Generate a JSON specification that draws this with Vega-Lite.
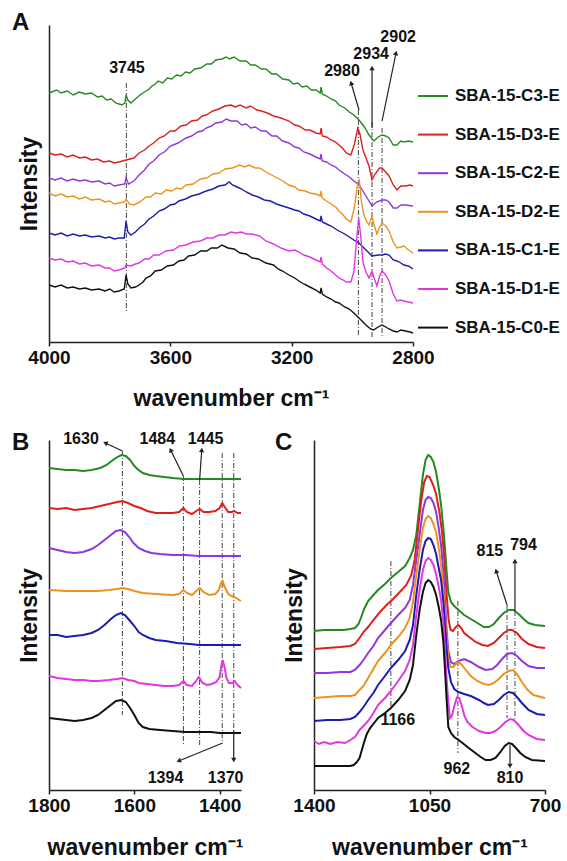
{
"$schema": "https://vega.github.io/schema/vega-lite/v6.json",
"padding": {"left": 12, "top": 11, "right": 0, "bottom": 0},
"config": {
  "font": "Liberation Sans",
  "view": {"stroke": null},
  "axis": {"grid": false, "domainColor": "#222", "domainWidth": 1.5, "tickColor": "#222", "tickWidth": 1.5, "tickSize": 4, "labelFontSize": 19, "labelFontWeight": "bold", "labelColor": "#111", "labelFlush": false, "labelOverlap": false, "labelPadding": 2, "titleFontSize": 23, "titleFontWeight": "bold", "titleColor": "#111", "format": "d"},
  "title": {"fontSize": 24, "fontWeight": "bold", "color": "#111", "anchor": "start", "frame": "group"},
  "text": {"font": "Liberation Sans", "fontWeight": "bold", "fontSize": 16, "color": "#111"}
},
"datasets": {
"lA": [
{"s":"C3","w":4000,"i":249},{"s":"C3","w":3975,"i":252},{"s":"C3","w":3960,"i":249},{"s":"C3","w":3940,"i":251},{"s":"C3","w":3920,"i":247},{"s":"C3","w":3900,"i":250},{"s":"C3","w":3880,"i":248},{"s":"C3","w":3860,"i":249},{"s":"C3","w":3840,"i":245},{"s":"C3","w":3825,"i":246},{"s":"C3","w":3810,"i":242},{"s":"C3","w":3795,"i":243},{"s":"C3","w":3780,"i":239},{"s":"C3","w":3760,"i":237},{"s":"C3","w":3750,"i":239},{"s":"C3","w":3746,"i":247},{"s":"C3","w":3740,"i":242},{"s":"C3","w":3730,"i":239},{"s":"C3","w":3715,"i":243},{"s":"C3","w":3700,"i":247},{"s":"C3","w":3680,"i":251},{"s":"C3","w":3670,"i":253},{"s":"C3","w":3660,"i":256},{"s":"C3","w":3650,"i":258},{"s":"C3","w":3640,"i":261},{"s":"C3","w":3625,"i":259},{"s":"C3","w":3610,"i":264},{"s":"C3","w":3595,"i":263},{"s":"C3","w":3580,"i":267},{"s":"C3","w":3565,"i":266},{"s":"C3","w":3550,"i":270},{"s":"C3","w":3535,"i":269},{"s":"C3","w":3520,"i":273},{"s":"C3","w":3500,"i":274},{"s":"C3","w":3480,"i":278},{"s":"C3","w":3465,"i":278},{"s":"C3","w":3450,"i":282},{"s":"C3","w":3430,"i":283},{"s":"C3","w":3416,"i":285},{"s":"C3","w":3405,"i":283},{"s":"C3","w":3390,"i":285},{"s":"C3","w":3370,"i":281},{"s":"C3","w":3350,"i":281},{"s":"C3","w":3335,"i":277},{"s":"C3","w":3320,"i":277},{"s":"C3","w":3300,"i":273},{"s":"C3","w":3285,"i":273},{"s":"C3","w":3265,"i":268},{"s":"C3","w":3250,"i":268},{"s":"C3","w":3230,"i":263},{"s":"C3","w":3209,"i":262},{"s":"C3","w":3195,"i":258},{"s":"C3","w":3180,"i":259},{"s":"C3","w":3165,"i":255},{"s":"C3","w":3150,"i":256},{"s":"C3","w":3135,"i":252},{"s":"C3","w":3120,"i":252},{"s":"C3","w":3106,"i":249},{"s":"C3","w":3103,"i":255},{"s":"C3","w":3099,"i":248},{"s":"C3","w":3085,"i":246},{"s":"C3","w":3070,"i":243},{"s":"C3","w":3055,"i":241},{"s":"C3","w":3044,"i":237},{"s":"C3","w":3025,"i":234},{"s":"C3","w":3010,"i":230},{"s":"C3","w":2995,"i":227},{"s":"C3","w":2978,"i":222},{"s":"C3","w":2960,"i":215},{"s":"C3","w":2945,"i":207},{"s":"C3","w":2929,"i":201},{"s":"C3","w":2915,"i":205},{"s":"C3","w":2902,"i":207},{"s":"C3","w":2890,"i":206},{"s":"C3","w":2879,"i":204},{"s":"C3","w":2865,"i":197},{"s":"C3","w":2853,"i":197},{"s":"C3","w":2840,"i":201},{"s":"C3","w":2830,"i":200},{"s":"C3","w":2815,"i":201},{"s":"C3","w":2800,"i":200},
{"s":"D3","w":4000,"i":189},{"s":"D3","w":3980,"i":187},{"s":"D3","w":3960,"i":188},{"s":"D3","w":3940,"i":185},{"s":"D3","w":3920,"i":187},{"s":"D3","w":3900,"i":184},{"s":"D3","w":3880,"i":185},{"s":"D3","w":3860,"i":182},{"s":"D3","w":3840,"i":183},{"s":"D3","w":3820,"i":180},{"s":"D3","w":3800,"i":181},{"s":"D3","w":3785,"i":179},{"s":"D3","w":3769,"i":180},{"s":"D3","w":3746,"i":182},{"s":"D3","w":3720,"i":184},{"s":"D3","w":3703,"i":189},{"s":"D3","w":3685,"i":192},{"s":"D3","w":3670,"i":196},{"s":"D3","w":3655,"i":199},{"s":"D3","w":3637,"i":204},{"s":"D3","w":3620,"i":206},{"s":"D3","w":3600,"i":211},{"s":"D3","w":3585,"i":211},{"s":"D3","w":3565,"i":216},{"s":"D3","w":3548,"i":217},{"s":"D3","w":3530,"i":221},{"s":"D3","w":3510,"i":222},{"s":"D3","w":3495,"i":226},{"s":"D3","w":3482,"i":227},{"s":"D3","w":3460,"i":231},{"s":"D3","w":3440,"i":233},{"s":"D3","w":3420,"i":236},{"s":"D3","w":3400,"i":237},{"s":"D3","w":3385,"i":235},{"s":"D3","w":3370,"i":237},{"s":"D3","w":3350,"i":234},{"s":"D3","w":3335,"i":236},{"s":"D3","w":3315,"i":232},{"s":"D3","w":3300,"i":231},{"s":"D3","w":3280,"i":229},{"s":"D3","w":3260,"i":226},{"s":"D3","w":3235,"i":224},{"s":"D3","w":3209,"i":221},{"s":"D3","w":3190,"i":217},{"s":"D3","w":3176,"i":216},{"s":"D3","w":3155,"i":212},{"s":"D3","w":3140,"i":212},{"s":"D3","w":3120,"i":209},{"s":"D3","w":3106,"i":208},{"s":"D3","w":3103,"i":214},{"s":"D3","w":3099,"i":206},{"s":"D3","w":3085,"i":205},{"s":"D3","w":3070,"i":202},{"s":"D3","w":3055,"i":200},{"s":"D3","w":3044,"i":197},{"s":"D3","w":3030,"i":193},{"s":"D3","w":3020,"i":189},{"s":"D3","w":3005,"i":187},{"s":"D3","w":2993,"i":198},{"s":"D3","w":2982,"i":214},{"s":"D3","w":2975,"i":208},{"s":"D3","w":2965,"i":192},{"s":"D3","w":2955,"i":184},{"s":"D3","w":2945,"i":176},{"s":"D3","w":2935,"i":162},{"s":"D3","w":2925,"i":168},{"s":"D3","w":2910,"i":174},{"s":"D3","w":2902,"i":174},{"s":"D3","w":2890,"i":170},{"s":"D3","w":2879,"i":166},{"s":"D3","w":2865,"i":157},{"s":"D3","w":2853,"i":152},{"s":"D3","w":2840,"i":156},{"s":"D3","w":2825,"i":156},{"s":"D3","w":2810,"i":157},{"s":"D3","w":2800,"i":156},
{"s":"C2","w":4000,"i":164},{"s":"C2","w":3980,"i":162},{"s":"C2","w":3960,"i":164},{"s":"C2","w":3940,"i":161},{"s":"C2","w":3920,"i":163},{"s":"C2","w":3900,"i":161},{"s":"C2","w":3880,"i":162},{"s":"C2","w":3860,"i":160},{"s":"C2","w":3835,"i":161},{"s":"C2","w":3815,"i":158},{"s":"C2","w":3800,"i":159},{"s":"C2","w":3785,"i":156},{"s":"C2","w":3769,"i":157},{"s":"C2","w":3750,"i":158},{"s":"C2","w":3746,"i":164},{"s":"C2","w":3738,"i":158},{"s":"C2","w":3720,"i":161},{"s":"C2","w":3703,"i":167},{"s":"C2","w":3685,"i":172},{"s":"C2","w":3670,"i":178},{"s":"C2","w":3655,"i":181},{"s":"C2","w":3637,"i":187},{"s":"C2","w":3620,"i":190},{"s":"C2","w":3600,"i":196},{"s":"C2","w":3575,"i":199},{"s":"C2","w":3548,"i":204},{"s":"C2","w":3530,"i":206},{"s":"C2","w":3510,"i":210},{"s":"C2","w":3495,"i":211},{"s":"C2","w":3482,"i":214},{"s":"C2","w":3465,"i":216},{"s":"C2","w":3450,"i":219},{"s":"C2","w":3430,"i":220},{"s":"C2","w":3416,"i":223},{"s":"C2","w":3400,"i":221},{"s":"C2","w":3380,"i":221},{"s":"C2","w":3365,"i":217},{"s":"C2","w":3350,"i":218},{"s":"C2","w":3335,"i":214},{"s":"C2","w":3320,"i":215},{"s":"C2","w":3300,"i":211},{"s":"C2","w":3285,"i":211},{"s":"C2","w":3265,"i":206},{"s":"C2","w":3250,"i":206},{"s":"C2","w":3230,"i":201},{"s":"C2","w":3209,"i":199},{"s":"C2","w":3190,"i":195},{"s":"C2","w":3176,"i":194},{"s":"C2","w":3160,"i":190},{"s":"C2","w":3140,"i":188},{"s":"C2","w":3120,"i":185},{"s":"C2","w":3106,"i":183},{"s":"C2","w":3103,"i":188},{"s":"C2","w":3099,"i":181},{"s":"C2","w":3085,"i":180},{"s":"C2","w":3070,"i":177},{"s":"C2","w":3055,"i":175},{"s":"C2","w":3044,"i":172},{"s":"C2","w":3025,"i":168},{"s":"C2","w":3010,"i":165},{"s":"C2","w":2995,"i":161},{"s":"C2","w":2978,"i":157},{"s":"C2","w":2955,"i":146},{"s":"C2","w":2935,"i":136},{"s":"C2","w":2920,"i":140},{"s":"C2","w":2902,"i":142},{"s":"C2","w":2890,"i":142},{"s":"C2","w":2879,"i":140},{"s":"C2","w":2865,"i":134},{"s":"C2","w":2853,"i":134},{"s":"C2","w":2840,"i":137},{"s":"C2","w":2825,"i":137},{"s":"C2","w":2800,"i":136},
{"s":"D2","w":4000,"i":149},{"s":"D2","w":3980,"i":146},{"s":"D2","w":3960,"i":148},{"s":"D2","w":3940,"i":145},{"s":"D2","w":3920,"i":146},{"s":"D2","w":3900,"i":143},{"s":"D2","w":3880,"i":145},{"s":"D2","w":3860,"i":142},{"s":"D2","w":3835,"i":143},{"s":"D2","w":3815,"i":140},{"s":"D2","w":3800,"i":141},{"s":"D2","w":3785,"i":138},{"s":"D2","w":3769,"i":139},{"s":"D2","w":3750,"i":140},{"s":"D2","w":3746,"i":143},{"s":"D2","w":3735,"i":138},{"s":"D2","w":3720,"i":137},{"s":"D2","w":3700,"i":140},{"s":"D2","w":3680,"i":145},{"s":"D2","w":3665,"i":145},{"s":"D2","w":3650,"i":149},{"s":"D2","w":3630,"i":148},{"s":"D2","w":3614,"i":152},{"s":"D2","w":3595,"i":151},{"s":"D2","w":3580,"i":154},{"s":"D2","w":3565,"i":153},{"s":"D2","w":3548,"i":157},{"s":"D2","w":3525,"i":158},{"s":"D2","w":3500,"i":163},{"s":"D2","w":3480,"i":164},{"s":"D2","w":3460,"i":168},{"s":"D2","w":3440,"i":169},{"s":"D2","w":3420,"i":173},{"s":"D2","w":3395,"i":174},{"s":"D2","w":3372,"i":177},{"s":"D2","w":3355,"i":175},{"s":"D2","w":3340,"i":177},{"s":"D2","w":3320,"i":174},{"s":"D2","w":3306,"i":174},{"s":"D2","w":3285,"i":170},{"s":"D2","w":3260,"i":166},{"s":"D2","w":3235,"i":162},{"s":"D2","w":3209,"i":157},{"s":"D2","w":3190,"i":155},{"s":"D2","w":3176,"i":152},{"s":"D2","w":3155,"i":151},{"s":"D2","w":3140,"i":149},{"s":"D2","w":3120,"i":148},{"s":"D2","w":3106,"i":146},{"s":"D2","w":3103,"i":151},{"s":"D2","w":3099,"i":144},{"s":"D2","w":3085,"i":141},{"s":"D2","w":3070,"i":138},{"s":"D2","w":3055,"i":135},{"s":"D2","w":3044,"i":131},{"s":"D2","w":3030,"i":127},{"s":"D2","w":3020,"i":123},{"s":"D2","w":3005,"i":120},{"s":"D2","w":2993,"i":135},{"s":"D2","w":2982,"i":160},{"s":"D2","w":2977,"i":162},{"s":"D2","w":2970,"i":140},{"s":"D2","w":2962,"i":127},{"s":"D2","w":2952,"i":120},{"s":"D2","w":2945,"i":117},{"s":"D2","w":2935,"i":126},{"s":"D2","w":2928,"i":117},{"s":"D2","w":2919,"i":108},{"s":"D2","w":2910,"i":115},{"s":"D2","w":2902,"i":119},{"s":"D2","w":2890,"i":116},{"s":"D2","w":2879,"i":111},{"s":"D2","w":2865,"i":100},{"s":"D2","w":2853,"i":94},{"s":"D2","w":2840,"i":95},{"s":"D2","w":2830,"i":96},{"s":"D2","w":2815,"i":92},{"s":"D2","w":2800,"i":89},
{"s":"C1","w":4000,"i":109},{"s":"C1","w":3980,"i":107},{"s":"C1","w":3960,"i":109},{"s":"C1","w":3940,"i":106},{"s":"C1","w":3920,"i":108},{"s":"C1","w":3900,"i":106},{"s":"C1","w":3880,"i":107},{"s":"C1","w":3860,"i":105},{"s":"C1","w":3835,"i":106},{"s":"C1","w":3815,"i":104},{"s":"C1","w":3800,"i":105},{"s":"C1","w":3785,"i":103},{"s":"C1","w":3769,"i":104},{"s":"C1","w":3752,"i":104},{"s":"C1","w":3746,"i":121},{"s":"C1","w":3740,"i":110},{"s":"C1","w":3730,"i":107},{"s":"C1","w":3715,"i":110},{"s":"C1","w":3703,"i":114},{"s":"C1","w":3685,"i":118},{"s":"C1","w":3670,"i":123},{"s":"C1","w":3655,"i":126},{"s":"C1","w":3637,"i":131},{"s":"C1","w":3620,"i":133},{"s":"C1","w":3600,"i":137},{"s":"C1","w":3585,"i":138},{"s":"C1","w":3572,"i":141},{"s":"C1","w":3550,"i":143},{"s":"C1","w":3530,"i":146},{"s":"C1","w":3505,"i":148},{"s":"C1","w":3482,"i":151},{"s":"C1","w":3460,"i":153},{"s":"C1","w":3440,"i":156},{"s":"C1","w":3420,"i":157},{"s":"C1","w":3406,"i":160},{"s":"C1","w":3395,"i":157},{"s":"C1","w":3380,"i":155},{"s":"C1","w":3365,"i":153},{"s":"C1","w":3350,"i":150},{"s":"C1","w":3330,"i":147},{"s":"C1","w":3310,"i":145},{"s":"C1","w":3290,"i":142},{"s":"C1","w":3270,"i":141},{"s":"C1","w":3250,"i":138},{"s":"C1","w":3230,"i":136},{"s":"C1","w":3209,"i":134},{"s":"C1","w":3190,"i":132},{"s":"C1","w":3176,"i":131},{"s":"C1","w":3160,"i":128},{"s":"C1","w":3140,"i":126},{"s":"C1","w":3120,"i":123},{"s":"C1","w":3106,"i":121},{"s":"C1","w":3103,"i":126},{"s":"C1","w":3099,"i":120},{"s":"C1","w":3085,"i":118},{"s":"C1","w":3070,"i":116},{"s":"C1","w":3055,"i":113},{"s":"C1","w":3044,"i":111},{"s":"C1","w":3025,"i":108},{"s":"C1","w":3010,"i":105},{"s":"C1","w":2995,"i":102},{"s":"C1","w":2978,"i":99},{"s":"C1","w":2955,"i":92},{"s":"C1","w":2935,"i":86},{"s":"C1","w":2915,"i":87},{"s":"C1","w":2902,"i":87},{"s":"C1","w":2890,"i":88},{"s":"C1","w":2879,"i":87},{"s":"C1","w":2865,"i":82},{"s":"C1","w":2853,"i":81},{"s":"C1","w":2840,"i":79},{"s":"C1","w":2830,"i":77},{"s":"C1","w":2815,"i":76},{"s":"C1","w":2800,"i":73},
{"s":"D1","w":4000,"i":84},{"s":"D1","w":3980,"i":82},{"s":"D1","w":3960,"i":83},{"s":"D1","w":3940,"i":80},{"s":"D1","w":3920,"i":81},{"s":"D1","w":3900,"i":78},{"s":"D1","w":3880,"i":79},{"s":"D1","w":3860,"i":76},{"s":"D1","w":3835,"i":77},{"s":"D1","w":3815,"i":74},{"s":"D1","w":3800,"i":74},{"s":"D1","w":3785,"i":71},{"s":"D1","w":3769,"i":72},{"s":"D1","w":3750,"i":74},{"s":"D1","w":3746,"i":77},{"s":"D1","w":3730,"i":76},{"s":"D1","w":3715,"i":78},{"s":"D1","w":3703,"i":79},{"s":"D1","w":3685,"i":83},{"s":"D1","w":3670,"i":83},{"s":"D1","w":3655,"i":87},{"s":"D1","w":3637,"i":87},{"s":"D1","w":3615,"i":91},{"s":"D1","w":3590,"i":92},{"s":"D1","w":3570,"i":96},{"s":"D1","w":3548,"i":97},{"s":"D1","w":3525,"i":100},{"s":"D1","w":3500,"i":101},{"s":"D1","w":3480,"i":104},{"s":"D1","w":3460,"i":104},{"s":"D1","w":3440,"i":107},{"s":"D1","w":3420,"i":107},{"s":"D1","w":3400,"i":110},{"s":"D1","w":3385,"i":109},{"s":"D1","w":3365,"i":110},{"s":"D1","w":3350,"i":108},{"s":"D1","w":3330,"i":108},{"s":"D1","w":3306,"i":106},{"s":"D1","w":3285,"i":101},{"s":"D1","w":3260,"i":98},{"s":"D1","w":3235,"i":94},{"s":"D1","w":3209,"i":91},{"s":"D1","w":3190,"i":92},{"s":"D1","w":3176,"i":90},{"s":"D1","w":3160,"i":87},{"s":"D1","w":3140,"i":85},{"s":"D1","w":3120,"i":82},{"s":"D1","w":3106,"i":80},{"s":"D1","w":3103,"i":85},{"s":"D1","w":3099,"i":78},{"s":"D1","w":3085,"i":74},{"s":"D1","w":3070,"i":71},{"s":"D1","w":3055,"i":67},{"s":"D1","w":3044,"i":64},{"s":"D1","w":3030,"i":62},{"s":"D1","w":3020,"i":60},{"s":"D1","w":3005,"i":60},{"s":"D1","w":2995,"i":70},{"s":"D1","w":2985,"i":105},{"s":"D1","w":2979,"i":124},{"s":"D1","w":2972,"i":105},{"s":"D1","w":2965,"i":80},{"s":"D1","w":2955,"i":70},{"s":"D1","w":2945,"i":64},{"s":"D1","w":2935,"i":71},{"s":"D1","w":2927,"i":63},{"s":"D1","w":2919,"i":56},{"s":"D1","w":2910,"i":66},{"s":"D1","w":2902,"i":71},{"s":"D1","w":2890,"i":67},{"s":"D1","w":2879,"i":61},{"s":"D1","w":2865,"i":48},{"s":"D1","w":2853,"i":41},{"s":"D1","w":2840,"i":42},{"s":"D1","w":2830,"i":41},{"s":"D1","w":2815,"i":40},{"s":"D1","w":2800,"i":39},
{"s":"C0","w":4000,"i":57},{"s":"C0","w":3980,"i":55},{"s":"C0","w":3960,"i":57},{"s":"C0","w":3940,"i":54},{"s":"C0","w":3920,"i":55},{"s":"C0","w":3900,"i":53},{"s":"C0","w":3880,"i":54},{"s":"C0","w":3860,"i":52},{"s":"C0","w":3835,"i":53},{"s":"C0","w":3815,"i":51},{"s":"C0","w":3800,"i":53},{"s":"C0","w":3785,"i":50},{"s":"C0","w":3769,"i":51},{"s":"C0","w":3752,"i":53},{"s":"C0","w":3746,"i":67},{"s":"C0","w":3740,"i":58},{"s":"C0","w":3730,"i":54},{"s":"C0","w":3715,"i":55},{"s":"C0","w":3703,"i":57},{"s":"C0","w":3690,"i":60},{"s":"C0","w":3680,"i":64},{"s":"C0","w":3665,"i":66},{"s":"C0","w":3650,"i":71},{"s":"C0","w":3630,"i":72},{"s":"C0","w":3610,"i":76},{"s":"C0","w":3590,"i":77},{"s":"C0","w":3572,"i":81},{"s":"C0","w":3555,"i":82},{"s":"C0","w":3540,"i":86},{"s":"C0","w":3520,"i":87},{"s":"C0","w":3500,"i":91},{"s":"C0","w":3480,"i":91},{"s":"C0","w":3465,"i":94},{"s":"C0","w":3445,"i":94},{"s":"C0","w":3430,"i":97},{"s":"C0","w":3410,"i":94},{"s":"C0","w":3390,"i":93},{"s":"C0","w":3370,"i":89},{"s":"C0","w":3350,"i":88},{"s":"C0","w":3330,"i":84},{"s":"C0","w":3310,"i":83},{"s":"C0","w":3285,"i":79},{"s":"C0","w":3260,"i":77},{"s":"C0","w":3245,"i":73},{"s":"C0","w":3230,"i":71},{"s":"C0","w":3209,"i":67},{"s":"C0","w":3190,"i":64},{"s":"C0","w":3176,"i":61},{"s":"C0","w":3160,"i":58},{"s":"C0","w":3140,"i":55},{"s":"C0","w":3120,"i":52},{"s":"C0","w":3106,"i":49},{"s":"C0","w":3103,"i":54},{"s":"C0","w":3099,"i":48},{"s":"C0","w":3085,"i":45},{"s":"C0","w":3070,"i":43},{"s":"C0","w":3055,"i":40},{"s":"C0","w":3044,"i":39},{"s":"C0","w":3025,"i":35},{"s":"C0","w":3010,"i":33},{"s":"C0","w":2995,"i":29},{"s":"C0","w":2978,"i":24},{"s":"C0","w":2955,"i":17},{"s":"C0","w":2940,"i":13},{"s":"C0","w":2930,"i":12},{"s":"C0","w":2915,"i":15},{"s":"C0","w":2902,"i":17},{"s":"C0","w":2890,"i":15},{"s":"C0","w":2879,"i":13},{"s":"C0","w":2865,"i":11},{"s":"C0","w":2853,"i":10},{"s":"C0","w":2840,"i":12},{"s":"C0","w":2825,"i":11},{"s":"C0","w":2810,"i":10},{"s":"C0","w":2800,"i":9}
],
"dA": [{"w":3745,"i":259,"i2":29},{"w":2980,"i":232,"i2":5},{"w":2935,"i":220,"i2":5},{"w":2902,"i":214,"i2":5}],
"arA": [{"k":"a","w":3004,"i":259,"w2":2978,"i2":232},{"k":"b","w":2935,"i":274,"w2":2935,"i2":214},{"k":"c","w":2856,"i":289,"w2":2902,"i2":221}],
"tA": [{"t":"3745","w":3743,"i":274},{"t":"2980","w":3034,"i":271},{"t":"2934","w":2938,"i":288},{"t":"2902","w":2849,"i":305}],
"lB": [
{"s":"C3","w":1800,"i":322},{"s":"C3","w":1780,"i":321},{"s":"C3","w":1760,"i":320},{"s":"C3","w":1740,"i":320},{"s":"C3","w":1720,"i":319},{"s":"C3","w":1700,"i":320},{"s":"C3","w":1680,"i":322},{"s":"C3","w":1665,"i":325},{"s":"C3","w":1650,"i":330},{"s":"C3","w":1640,"i":333},{"s":"C3","w":1630,"i":335},{"s":"C3","w":1620,"i":334},{"s":"C3","w":1610,"i":330},{"s":"C3","w":1600,"i":324},{"s":"C3","w":1590,"i":320},{"s":"C3","w":1580,"i":317},{"s":"C3","w":1565,"i":315},{"s":"C3","w":1550,"i":314},{"s":"C3","w":1530,"i":313},{"s":"C3","w":1510,"i":312},{"s":"C3","w":1485,"i":311},{"s":"C3","w":1460,"i":311},{"s":"C3","w":1440,"i":311},{"s":"C3","w":1420,"i":311},{"s":"C3","w":1400,"i":311},{"s":"C3","w":1380,"i":311},{"s":"C3","w":1360,"i":311},{"s":"C3","w":1350,"i":311},
{"s":"D3","w":1800,"i":282},{"s":"D3","w":1780,"i":281},{"s":"D3","w":1760,"i":282},{"s":"D3","w":1740,"i":280},{"s":"D3","w":1720,"i":281},{"s":"D3","w":1700,"i":282},{"s":"D3","w":1680,"i":284},{"s":"D3","w":1660,"i":286},{"s":"D3","w":1640,"i":288},{"s":"D3","w":1628,"i":289},{"s":"D3","w":1615,"i":287},{"s":"D3","w":1600,"i":284},{"s":"D3","w":1585,"i":282},{"s":"D3","w":1570,"i":279},{"s":"D3","w":1550,"i":277},{"s":"D3","w":1530,"i":277},{"s":"D3","w":1510,"i":277},{"s":"D3","w":1495,"i":278},{"s":"D3","w":1485,"i":282},{"s":"D3","w":1477,"i":278},{"s":"D3","w":1465,"i":276},{"s":"D3","w":1455,"i":279},{"s":"D3","w":1447,"i":281},{"s":"D3","w":1438,"i":278},{"s":"D3","w":1425,"i":278},{"s":"D3","w":1410,"i":279},{"s":"D3","w":1400,"i":282},{"s":"D3","w":1394,"i":287},{"s":"D3","w":1388,"i":283},{"s":"D3","w":1380,"i":278},{"s":"D3","w":1372,"i":278},{"s":"D3","w":1366,"i":279},{"s":"D3","w":1358,"i":277},{"s":"D3","w":1350,"i":277},
{"s":"C2","w":1800,"i":242},{"s":"C2","w":1780,"i":240},{"s":"C2","w":1760,"i":238},{"s":"C2","w":1740,"i":237},{"s":"C2","w":1720,"i":238},{"s":"C2","w":1700,"i":241},{"s":"C2","w":1685,"i":245},{"s":"C2","w":1670,"i":250},{"s":"C2","w":1655,"i":255},{"s":"C2","w":1643,"i":259},{"s":"C2","w":1632,"i":260},{"s":"C2","w":1622,"i":258},{"s":"C2","w":1612,"i":253},{"s":"C2","w":1602,"i":247},{"s":"C2","w":1590,"i":242},{"s":"C2","w":1575,"i":239},{"s":"C2","w":1560,"i":237},{"s":"C2","w":1540,"i":236},{"s":"C2","w":1510,"i":235},{"s":"C2","w":1480,"i":235},{"s":"C2","w":1449,"i":234},{"s":"C2","w":1420,"i":234},{"s":"C2","w":1400,"i":234},{"s":"C2","w":1380,"i":234},{"s":"C2","w":1350,"i":234},
{"s":"D2","w":1800,"i":200},{"s":"D2","w":1760,"i":199},{"s":"D2","w":1720,"i":199},{"s":"D2","w":1685,"i":199},{"s":"D2","w":1660,"i":200},{"s":"D2","w":1640,"i":201},{"s":"D2","w":1628,"i":202},{"s":"D2","w":1615,"i":201},{"s":"D2","w":1600,"i":199},{"s":"D2","w":1580,"i":197},{"s":"D2","w":1550,"i":196},{"s":"D2","w":1510,"i":195},{"s":"D2","w":1495,"i":196},{"s":"D2","w":1485,"i":200},{"s":"D2","w":1477,"i":197},{"s":"D2","w":1465,"i":195},{"s":"D2","w":1455,"i":199},{"s":"D2","w":1447,"i":202},{"s":"D2","w":1438,"i":198},{"s":"D2","w":1425,"i":195},{"s":"D2","w":1410,"i":196},{"s":"D2","w":1402,"i":200},{"s":"D2","w":1397,"i":207},{"s":"D2","w":1393,"i":209},{"s":"D2","w":1388,"i":203},{"s":"D2","w":1380,"i":196},{"s":"D2","w":1372,"i":194},{"s":"D2","w":1366,"i":193},{"s":"D2","w":1358,"i":191},{"s":"D2","w":1350,"i":189},
{"s":"C1","w":1800,"i":155},{"s":"C1","w":1780,"i":155},{"s":"C1","w":1760,"i":153},{"s":"C1","w":1740,"i":154},{"s":"C1","w":1720,"i":155},{"s":"C1","w":1700,"i":157},{"s":"C1","w":1685,"i":160},{"s":"C1","w":1670,"i":165},{"s":"C1","w":1655,"i":171},{"s":"C1","w":1643,"i":175},{"s":"C1","w":1632,"i":177},{"s":"C1","w":1622,"i":175},{"s":"C1","w":1612,"i":170},{"s":"C1","w":1600,"i":164},{"s":"C1","w":1590,"i":158},{"s":"C1","w":1580,"i":155},{"s":"C1","w":1565,"i":152},{"s":"C1","w":1550,"i":150},{"s":"C1","w":1527,"i":149},{"s":"C1","w":1500,"i":147},{"s":"C1","w":1470,"i":146},{"s":"C1","w":1449,"i":145},{"s":"C1","w":1420,"i":145},{"s":"C1","w":1400,"i":145},{"s":"C1","w":1380,"i":145},{"s":"C1","w":1350,"i":145},
{"s":"D1","w":1800,"i":114},{"s":"D1","w":1780,"i":112},{"s":"D1","w":1760,"i":111},{"s":"D1","w":1740,"i":110},{"s":"D1","w":1720,"i":110},{"s":"D1","w":1700,"i":109},{"s":"D1","w":1685,"i":109},{"s":"D1","w":1660,"i":110},{"s":"D1","w":1640,"i":111},{"s":"D1","w":1628,"i":112},{"s":"D1","w":1615,"i":110},{"s":"D1","w":1600,"i":109},{"s":"D1","w":1590,"i":107},{"s":"D1","w":1570,"i":106},{"s":"D1","w":1550,"i":105},{"s":"D1","w":1530,"i":104},{"s":"D1","w":1510,"i":104},{"s":"D1","w":1495,"i":105},{"s":"D1","w":1485,"i":109},{"s":"D1","w":1477,"i":105},{"s":"D1","w":1465,"i":104},{"s":"D1","w":1457,"i":108},{"s":"D1","w":1449,"i":113},{"s":"D1","w":1440,"i":107},{"s":"D1","w":1430,"i":105},{"s":"D1","w":1418,"i":106},{"s":"D1","w":1408,"i":108},{"s":"D1","w":1400,"i":113},{"s":"D1","w":1396,"i":124},{"s":"D1","w":1393,"i":130},{"s":"D1","w":1389,"i":124},{"s":"D1","w":1384,"i":112},{"s":"D1","w":1378,"i":107},{"s":"D1","w":1370,"i":107},{"s":"D1","w":1365,"i":109},{"s":"D1","w":1358,"i":105},{"s":"D1","w":1350,"i":102},
{"s":"C0","w":1800,"i":72},{"s":"C0","w":1780,"i":71},{"s":"C0","w":1760,"i":70},{"s":"C0","w":1740,"i":69},{"s":"C0","w":1720,"i":70},{"s":"C0","w":1700,"i":72},{"s":"C0","w":1685,"i":75},{"s":"C0","w":1670,"i":80},{"s":"C0","w":1655,"i":85},{"s":"C0","w":1643,"i":89},{"s":"C0","w":1630,"i":90},{"s":"C0","w":1620,"i":88},{"s":"C0","w":1610,"i":82},{"s":"C0","w":1600,"i":75},{"s":"C0","w":1590,"i":67},{"s":"C0","w":1580,"i":63},{"s":"C0","w":1565,"i":61},{"s":"C0","w":1540,"i":60},{"s":"C0","w":1510,"i":59},{"s":"C0","w":1480,"i":58},{"s":"C0","w":1449,"i":58},{"s":"C0","w":1420,"i":58},{"s":"C0","w":1400,"i":57},{"s":"C0","w":1380,"i":57},{"s":"C0","w":1350,"i":57}
],
"dB": [{"w":1628,"i":339,"i2":75},{"w":1485,"i":314,"i2":45},{"w":1447,"i":310,"i2":45},{"w":1394,"i":337,"i2":47},{"w":1367,"i":337,"i2":59}],
"arB": [{"k":"a","w":1668,"i":347,"w2":1628,"i2":339},{"k":"b","w":1515,"i":340,"w2":1485,"i2":314},{"k":"c","w":1442,"i":340,"w2":1447,"i2":310},{"k":"d","w":1496,"i":29,"w2":1393,"i2":47},{"k":"e","w":1367,"i":30,"w2":1367,"i2":59}],
"tB": [{"t":"1630","w":1725,"i":351},{"t":"1484","w":1546,"i":351},{"t":"1445","w":1433,"i":351},{"t":"1394","w":1527,"i":12},{"t":"1370","w":1386,"i":12}],
"lC": [
{"s":"C3","w":1400,"i":159},{"s":"C3","w":1370,"i":160},{"s":"C3","w":1340,"i":160},{"s":"C3","w":1310,"i":160},{"s":"C3","w":1290,"i":161},{"s":"C3","w":1276,"i":162},{"s":"C3","w":1265,"i":166},{"s":"C3","w":1258,"i":172},{"s":"C3","w":1248,"i":181},{"s":"C3","w":1236,"i":189},{"s":"C3","w":1220,"i":195},{"s":"C3","w":1206,"i":200},{"s":"C3","w":1185,"i":206},{"s":"C3","w":1167,"i":212},{"s":"C3","w":1145,"i":218},{"s":"C3","w":1124,"i":224},{"s":"C3","w":1110,"i":232},{"s":"C3","w":1100,"i":240},{"s":"C3","w":1090,"i":255},{"s":"C3","w":1080,"i":285},{"s":"C3","w":1070,"i":315},{"s":"C3","w":1062,"i":330},{"s":"C3","w":1054,"i":335},{"s":"C3","w":1046,"i":333},{"s":"C3","w":1038,"i":328},{"s":"C3","w":1030,"i":318},{"s":"C3","w":1022,"i":302},{"s":"C3","w":1015,"i":285},{"s":"C3","w":1008,"i":262},{"s":"C3","w":1003,"i":242},{"s":"C3","w":998,"i":218},{"s":"C3","w":993,"i":198},{"s":"C3","w":985,"i":188},{"s":"C3","w":975,"i":184},{"s":"C3","w":962,"i":180},{"s":"C3","w":945,"i":175},{"s":"C3","w":920,"i":170},{"s":"C3","w":900,"i":166},{"s":"C3","w":885,"i":163},{"s":"C3","w":870,"i":163},{"s":"C3","w":855,"i":166},{"s":"C3","w":840,"i":172},{"s":"C3","w":825,"i":177},{"s":"C3","w":810,"i":180},{"s":"C3","w":795,"i":180},{"s":"C3","w":780,"i":176},{"s":"C3","w":765,"i":171},{"s":"C3","w":750,"i":167},{"s":"C3","w":730,"i":165},{"s":"C3","w":700,"i":164},
{"s":"D3","w":1400,"i":141},{"s":"D3","w":1360,"i":142},{"s":"D3","w":1320,"i":143},{"s":"D3","w":1290,"i":144},{"s":"D3","w":1276,"i":146},{"s":"D3","w":1262,"i":152},{"s":"D3","w":1250,"i":158},{"s":"D3","w":1236,"i":163},{"s":"D3","w":1220,"i":170},{"s":"D3","w":1200,"i":178},{"s":"D3","w":1180,"i":185},{"s":"D3","w":1160,"i":191},{"s":"D3","w":1140,"i":198},{"s":"D3","w":1120,"i":205},{"s":"D3","w":1105,"i":215},{"s":"D3","w":1095,"i":230},{"s":"D3","w":1085,"i":260},{"s":"D3","w":1075,"i":290},{"s":"D3","w":1066,"i":308},{"s":"D3","w":1058,"i":314},{"s":"D3","w":1050,"i":313},{"s":"D3","w":1040,"i":306},{"s":"D3","w":1030,"i":296},{"s":"D3","w":1020,"i":278},{"s":"D3","w":1012,"i":258},{"s":"D3","w":1005,"i":230},{"s":"D3","w":998,"i":195},{"s":"D3","w":992,"i":170},{"s":"D3","w":986,"i":160},{"s":"D3","w":979,"i":159},{"s":"D3","w":970,"i":163},{"s":"D3","w":962,"i":165},{"s":"D3","w":954,"i":162},{"s":"D3","w":945,"i":157},{"s":"D3","w":930,"i":153},{"s":"D3","w":910,"i":148},{"s":"D3","w":890,"i":145},{"s":"D3","w":873,"i":144},{"s":"D3","w":855,"i":147},{"s":"D3","w":840,"i":152},{"s":"D3","w":825,"i":157},{"s":"D3","w":810,"i":160},{"s":"D3","w":800,"i":160},{"s":"D3","w":785,"i":157},{"s":"D3","w":770,"i":151},{"s":"D3","w":750,"i":146},{"s":"D3","w":725,"i":143},{"s":"D3","w":700,"i":142},
{"s":"C2","w":1400,"i":117},{"s":"C2","w":1360,"i":117},{"s":"C2","w":1320,"i":118},{"s":"C2","w":1290,"i":118},{"s":"C2","w":1276,"i":120},{"s":"C2","w":1262,"i":125},{"s":"C2","w":1250,"i":130},{"s":"C2","w":1236,"i":137},{"s":"C2","w":1220,"i":144},{"s":"C2","w":1206,"i":152},{"s":"C2","w":1185,"i":160},{"s":"C2","w":1167,"i":167},{"s":"C2","w":1145,"i":175},{"s":"C2","w":1124,"i":182},{"s":"C2","w":1110,"i":190},{"s":"C2","w":1100,"i":205},{"s":"C2","w":1090,"i":230},{"s":"C2","w":1080,"i":255},{"s":"C2","w":1070,"i":280},{"s":"C2","w":1062,"i":290},{"s":"C2","w":1054,"i":293},{"s":"C2","w":1046,"i":292},{"s":"C2","w":1038,"i":287},{"s":"C2","w":1030,"i":278},{"s":"C2","w":1022,"i":262},{"s":"C2","w":1015,"i":245},{"s":"C2","w":1008,"i":218},{"s":"C2","w":1003,"i":190},{"s":"C2","w":998,"i":160},{"s":"C2","w":993,"i":139},{"s":"C2","w":985,"i":128},{"s":"C2","w":975,"i":126},{"s":"C2","w":962,"i":129},{"s":"C2","w":945,"i":131},{"s":"C2","w":925,"i":128},{"s":"C2","w":900,"i":123},{"s":"C2","w":880,"i":120},{"s":"C2","w":860,"i":121},{"s":"C2","w":845,"i":125},{"s":"C2","w":830,"i":131},{"s":"C2","w":815,"i":136},{"s":"C2","w":800,"i":137},{"s":"C2","w":785,"i":134},{"s":"C2","w":770,"i":129},{"s":"C2","w":750,"i":124},{"s":"C2","w":725,"i":122},{"s":"C2","w":700,"i":122},
{"s":"D2","w":1400,"i":92},{"s":"D2","w":1360,"i":93},{"s":"D2","w":1320,"i":94},{"s":"D2","w":1290,"i":94},{"s":"D2","w":1276,"i":95},{"s":"D2","w":1262,"i":100},{"s":"D2","w":1250,"i":104},{"s":"D2","w":1236,"i":112},{"s":"D2","w":1220,"i":121},{"s":"D2","w":1206,"i":129},{"s":"D2","w":1185,"i":137},{"s":"D2","w":1167,"i":145},{"s":"D2","w":1145,"i":153},{"s":"D2","w":1124,"i":162},{"s":"D2","w":1110,"i":172},{"s":"D2","w":1100,"i":188},{"s":"D2","w":1090,"i":215},{"s":"D2","w":1080,"i":240},{"s":"D2","w":1070,"i":262},{"s":"D2","w":1062,"i":271},{"s":"D2","w":1054,"i":274},{"s":"D2","w":1046,"i":272},{"s":"D2","w":1038,"i":266},{"s":"D2","w":1030,"i":258},{"s":"D2","w":1022,"i":242},{"s":"D2","w":1015,"i":225},{"s":"D2","w":1008,"i":200},{"s":"D2","w":1003,"i":175},{"s":"D2","w":998,"i":150},{"s":"D2","w":993,"i":132},{"s":"D2","w":986,"i":123},{"s":"D2","w":978,"i":123},{"s":"D2","w":970,"i":126},{"s":"D2","w":962,"i":128},{"s":"D2","w":952,"i":125},{"s":"D2","w":940,"i":120},{"s":"D2","w":925,"i":114},{"s":"D2","w":905,"i":109},{"s":"D2","w":885,"i":106},{"s":"D2","w":870,"i":105},{"s":"D2","w":855,"i":107},{"s":"D2","w":840,"i":111},{"s":"D2","w":825,"i":116},{"s":"D2","w":810,"i":119},{"s":"D2","w":797,"i":120},{"s":"D2","w":785,"i":116},{"s":"D2","w":770,"i":108},{"s":"D2","w":755,"i":101},{"s":"D2","w":735,"i":95},{"s":"D2","w":700,"i":92},
{"s":"C1","w":1400,"i":69},{"s":"C1","w":1360,"i":70},{"s":"C1","w":1320,"i":70},{"s":"C1","w":1290,"i":71},{"s":"C1","w":1276,"i":73},{"s":"C1","w":1262,"i":78},{"s":"C1","w":1250,"i":83},{"s":"C1","w":1236,"i":90},{"s":"C1","w":1220,"i":97},{"s":"C1","w":1206,"i":105},{"s":"C1","w":1185,"i":114},{"s":"C1","w":1167,"i":122},{"s":"C1","w":1145,"i":130},{"s":"C1","w":1124,"i":139},{"s":"C1","w":1110,"i":150},{"s":"C1","w":1100,"i":165},{"s":"C1","w":1090,"i":195},{"s":"C1","w":1080,"i":220},{"s":"C1","w":1070,"i":240},{"s":"C1","w":1062,"i":249},{"s":"C1","w":1054,"i":252},{"s":"C1","w":1046,"i":251},{"s":"C1","w":1038,"i":245},{"s":"C1","w":1030,"i":236},{"s":"C1","w":1022,"i":222},{"s":"C1","w":1015,"i":210},{"s":"C1","w":1008,"i":188},{"s":"C1","w":1003,"i":165},{"s":"C1","w":998,"i":140},{"s":"C1","w":993,"i":122},{"s":"C1","w":985,"i":108},{"s":"C1","w":975,"i":101},{"s":"C1","w":962,"i":98},{"s":"C1","w":945,"i":96},{"s":"C1","w":925,"i":94},{"s":"C1","w":900,"i":90},{"s":"C1","w":885,"i":87},{"s":"C1","w":873,"i":85},{"s":"C1","w":855,"i":86},{"s":"C1","w":840,"i":90},{"s":"C1","w":825,"i":95},{"s":"C1","w":810,"i":98},{"s":"C1","w":797,"i":97},{"s":"C1","w":785,"i":93},{"s":"C1","w":770,"i":87},{"s":"C1","w":750,"i":80},{"s":"C1","w":725,"i":76},{"s":"C1","w":700,"i":75},
{"s":"D1","w":1400,"i":49},{"s":"D1","w":1385,"i":46},{"s":"D1","w":1370,"i":48},{"s":"D1","w":1350,"i":46},{"s":"D1","w":1330,"i":48},{"s":"D1","w":1306,"i":47},{"s":"D1","w":1290,"i":50},{"s":"D1","w":1276,"i":53},{"s":"D1","w":1262,"i":60},{"s":"D1","w":1250,"i":64},{"s":"D1","w":1236,"i":69},{"s":"D1","w":1220,"i":77},{"s":"D1","w":1206,"i":85},{"s":"D1","w":1185,"i":92},{"s":"D1","w":1167,"i":99},{"s":"D1","w":1145,"i":109},{"s":"D1","w":1124,"i":119},{"s":"D1","w":1110,"i":130},{"s":"D1","w":1100,"i":145},{"s":"D1","w":1090,"i":175},{"s":"D1","w":1080,"i":200},{"s":"D1","w":1070,"i":220},{"s":"D1","w":1062,"i":229},{"s":"D1","w":1054,"i":232},{"s":"D1","w":1046,"i":230},{"s":"D1","w":1038,"i":225},{"s":"D1","w":1030,"i":216},{"s":"D1","w":1022,"i":203},{"s":"D1","w":1015,"i":190},{"s":"D1","w":1008,"i":168},{"s":"D1","w":1003,"i":140},{"s":"D1","w":998,"i":110},{"s":"D1","w":993,"i":88},{"s":"D1","w":988,"i":72},{"s":"D1","w":982,"i":74},{"s":"D1","w":975,"i":84},{"s":"D1","w":966,"i":93},{"s":"D1","w":960,"i":92},{"s":"D1","w":952,"i":84},{"s":"D1","w":944,"i":74},{"s":"D1","w":935,"i":68},{"s":"D1","w":920,"i":63},{"s":"D1","w":900,"i":59},{"s":"D1","w":880,"i":57},{"s":"D1","w":865,"i":57},{"s":"D1","w":850,"i":59},{"s":"D1","w":835,"i":63},{"s":"D1","w":820,"i":68},{"s":"D1","w":805,"i":71},{"s":"D1","w":795,"i":70},{"s":"D1","w":780,"i":65},{"s":"D1","w":765,"i":59},{"s":"D1","w":750,"i":55},{"s":"D1","w":725,"i":51},{"s":"D1","w":700,"i":50},
{"s":"C0","w":1400,"i":24},{"s":"C0","w":1360,"i":24},{"s":"C0","w":1320,"i":24},{"s":"C0","w":1290,"i":24},{"s":"C0","w":1280,"i":25},{"s":"C0","w":1270,"i":28},{"s":"C0","w":1262,"i":32},{"s":"C0","w":1255,"i":40},{"s":"C0","w":1248,"i":48},{"s":"C0","w":1240,"i":56},{"s":"C0","w":1230,"i":62},{"s":"C0","w":1220,"i":66},{"s":"C0","w":1206,"i":72},{"s":"C0","w":1185,"i":77},{"s":"C0","w":1167,"i":82},{"s":"C0","w":1145,"i":90},{"s":"C0","w":1124,"i":99},{"s":"C0","w":1110,"i":110},{"s":"C0","w":1100,"i":125},{"s":"C0","w":1090,"i":155},{"s":"C0","w":1080,"i":180},{"s":"C0","w":1070,"i":198},{"s":"C0","w":1062,"i":207},{"s":"C0","w":1054,"i":210},{"s":"C0","w":1046,"i":208},{"s":"C0","w":1038,"i":203},{"s":"C0","w":1030,"i":195},{"s":"C0","w":1022,"i":183},{"s":"C0","w":1015,"i":170},{"s":"C0","w":1008,"i":148},{"s":"C0","w":1003,"i":120},{"s":"C0","w":998,"i":90},{"s":"C0","w":993,"i":63},{"s":"C0","w":985,"i":57},{"s":"C0","w":975,"i":53},{"s":"C0","w":962,"i":50},{"s":"C0","w":950,"i":47},{"s":"C0","w":935,"i":43},{"s":"C0","w":915,"i":38},{"s":"C0","w":895,"i":33},{"s":"C0","w":880,"i":30},{"s":"C0","w":865,"i":30},{"s":"C0","w":850,"i":32},{"s":"C0","w":835,"i":38},{"s":"C0","w":822,"i":44},{"s":"C0","w":810,"i":47},{"s":"C0","w":800,"i":46},{"s":"C0","w":788,"i":42},{"s":"C0","w":775,"i":37},{"s":"C0","w":760,"i":33},{"s":"C0","w":740,"i":30},{"s":"C0","w":700,"i":29}
],
"dC": [{"w":1167,"i":229,"i2":82},{"w":964,"i":189,"i2":37},{"w":815,"i":185,"i2":72},{"w":791,"i":179,"i2":69}],
"arC": [{"k":"a","w":848,"i":219,"w2":815,"i2":185},{"k":"b","w":791,"i":229,"w2":791,"i2":179},{"k":"c","w":806,"i":24,"w2":806,"i2":45}],
"tC": [{"t":"1166","w":1146,"i":70},{"t":"962","w":967,"i":21},{"t":"815","w":867,"i":239},{"t":"794","w":765,"i":245},{"t":"810","w":806,"i":12}]
},
"resolve": {"legend": {"color": "independent"}},
"bounds": "flush",
"spacing": 98,
"vconcat": [
{
  "width": 364, "height": 317,
  "title": {"text": "A", "dx": -37, "offset": -10},
  "encoding": {
    "x": {"field": "w", "type": "quantitative", "scale": {"domain": [2800, 4000], "reverse": true, "nice": false, "zero": false}, "axis": {"values": [4000, 3600, 3200, 2800], "title": "wavenumber cm⁻¹", "titlePadding": 20}},
    "y": {"field": "i", "type": "quantitative", "scale": {"domain": [0, 317], "nice": false, "zero": false}, "axis": {"labels": false, "ticks": false, "title": "Intensity", "titlePadding": 8}}
  },
  "layer": [
    {"data": {"name": "dA"}, "mark": {"type": "rule", "color": "#444", "strokeWidth": 1, "strokeDash": [5, 2, 1, 2]}, "encoding": {"y2": {"field": "i2"}}},
    {"data": {"name": "lA"}, "mark": {"type": "line", "strokeWidth": 1.4},
     "encoding": {"color": {"field": "s", "type": "nominal", "scale": {"domain": ["C3","D3","C2","D2","C1","D1","C0"], "range": ["#238a23","#dc2020","#8c38dc","#ee921e","#1c1cb0","#e236e2","#111111"]},
       "legend": {"orient": "none", "legendX": 368, "legendY": 55, "title": null, "symbolType": "stroke", "symbolSize": 900, "symbolStrokeWidth": 2, "labelFontSize": 17, "labelFontWeight": "bold", "labelColor": "#111", "rowPadding": 14.6, "labelOffset": 6, "labelLimit": 0, "padding": 0, "labelExpr": "'SBA-15-' + datum.label + '-E'"}}}},
    {"data": {"name": "arA"}, "mark": {"type": "rule", "color": "#222", "strokeWidth": 1.2}, "encoding": {"x2": {"field": "w2"}, "y2": {"field": "i2"}}},
    {"data": {"name": "arA"}, "transform": [{"filter": "datum.k == 'a'"}], "mark": {"type": "point", "shape": "triangle-up", "filled": true, "color": "#222", "size": 28, "opacity": 1, "angle": 344}},
    {"data": {"name": "arA"}, "transform": [{"filter": "datum.k == 'b'"}], "mark": {"type": "point", "shape": "triangle-up", "filled": true, "color": "#222", "size": 28, "opacity": 1, "angle": 0}},
    {"data": {"name": "arA"}, "transform": [{"filter": "datum.k == 'c'"}], "mark": {"type": "point", "shape": "triangle-up", "filled": true, "color": "#222", "size": 28, "opacity": 1, "angle": 12}},
    {"data": {"name": "tA"}, "mark": {"type": "text"}, "encoding": {"text": {"field": "t"}}}
  ]
},
{
  "hconcat": [
    {
      "width": 192, "height": 350,
      "title": {"text": "B", "dx": -37, "offset": -24},
      "encoding": {
        "x": {"field": "w", "type": "quantitative", "scale": {"domain": [1350, 1800], "reverse": true, "nice": false, "zero": false}, "axis": {"values": [1800, 1600, 1400], "title": "wavenumber cm⁻¹", "titlePadding": 21}},
        "y": {"field": "i", "type": "quantitative", "scale": {"domain": [0, 350], "nice": false, "zero": false}, "axis": {"labels": false, "ticks": false, "title": "Intensity", "titlePadding": 8}}
      },
      "layer": [
        {"data": {"name": "dB"}, "mark": {"type": "rule", "color": "#444", "strokeWidth": 1, "strokeDash": [5, 2, 1, 2]}, "encoding": {"y2": {"field": "i2"}}},
        {"data": {"name": "lB"}, "mark": {"type": "line", "strokeWidth": 2},
         "encoding": {"color": {"field": "s", "type": "nominal", "scale": {"domain": ["C3","D3","C2","D2","C1","D1","C0"], "range": ["#238a23","#dc2020","#8c38dc","#ee921e","#1c1cb0","#e236e2","#111111"]}, "legend": null}}},
        {"data": {"name": "arB"}, "mark": {"type": "rule", "color": "#222", "strokeWidth": 1.2}, "encoding": {"x2": {"field": "w2"}, "y2": {"field": "i2"}}},
        {"data": {"name": "arB"}, "transform": [{"filter": "datum.k == 'a'"}], "mark": {"type": "point", "shape": "triangle-up", "filled": true, "color": "#222", "size": 28, "opacity": 1, "angle": 295}},
        {"data": {"name": "arB"}, "transform": [{"filter": "datum.k == 'b'"}], "mark": {"type": "point", "shape": "triangle-up", "filled": true, "color": "#222", "size": 28, "opacity": 1, "angle": 333}},
        {"data": {"name": "arB"}, "transform": [{"filter": "datum.k == 'c'"}], "mark": {"type": "point", "shape": "triangle-up", "filled": true, "color": "#222", "size": 28, "opacity": 1, "angle": 6}},
        {"data": {"name": "arB"}, "transform": [{"filter": "datum.k == 'd'"}], "mark": {"type": "point", "shape": "triangle-up", "filled": true, "color": "#222", "size": 28, "opacity": 1, "angle": 248}},
        {"data": {"name": "arB"}, "transform": [{"filter": "datum.k == 'e'"}], "mark": {"type": "point", "shape": "triangle-up", "filled": true, "color": "#222", "size": 28, "opacity": 1, "angle": 180}},
        {"data": {"name": "tB"}, "mark": {"type": "text"}, "encoding": {"text": {"field": "t"}}}
      ]
    },
    {
      "width": 231, "height": 350,
      "title": {"text": "C", "dx": -39, "offset": -15},
      "encoding": {
        "x": {"field": "w", "type": "quantitative", "scale": {"domain": [700, 1400], "reverse": true, "nice": false, "zero": false}, "axis": {"values": [1400, 1050, 700], "title": "wavenumber cm⁻¹", "titlePadding": 21}},
        "y": {"field": "i", "type": "quantitative", "scale": {"domain": [0, 350], "nice": false, "zero": false}, "axis": {"labels": false, "ticks": false, "title": "Intensity", "titlePadding": 8}}
      },
      "layer": [
        {"data": {"name": "dC"}, "mark": {"type": "rule", "color": "#444", "strokeWidth": 1, "strokeDash": [5, 2, 1, 2]}, "encoding": {"y2": {"field": "i2"}}},
        {"data": {"name": "lC"}, "mark": {"type": "line", "strokeWidth": 2},
         "encoding": {"color": {"field": "s", "type": "nominal", "scale": {"domain": ["C3","D3","C2","D2","C1","D1","C0"], "range": ["#238a23","#dc2020","#8c38dc","#ee921e","#1c1cb0","#e236e2","#111111"]}, "legend": null}}},
        {"data": {"name": "arC"}, "mark": {"type": "rule", "color": "#222", "strokeWidth": 1.2}, "encoding": {"x2": {"field": "w2"}, "y2": {"field": "i2"}}},
        {"data": {"name": "arC"}, "transform": [{"filter": "datum.k == 'a'"}], "mark": {"type": "point", "shape": "triangle-up", "filled": true, "color": "#222", "size": 28, "opacity": 1, "angle": 342}},
        {"data": {"name": "arC"}, "transform": [{"filter": "datum.k == 'b'"}], "mark": {"type": "point", "shape": "triangle-up", "filled": true, "color": "#222", "size": 28, "opacity": 1, "angle": 0}},
        {"data": {"name": "arC"}, "transform": [{"filter": "datum.k == 'c'"}], "mark": {"type": "point", "shape": "triangle-up", "filled": true, "color": "#222", "size": 28, "opacity": 1, "angle": 180}},
        {"data": {"name": "tC"}, "mark": {"type": "text"}, "encoding": {"text": {"field": "t"}}}
      ]
    }
  ],
  "bounds": "flush",
  "spacing": 73,
  "resolve": {"legend": {"color": "independent"}}
}
]
}
